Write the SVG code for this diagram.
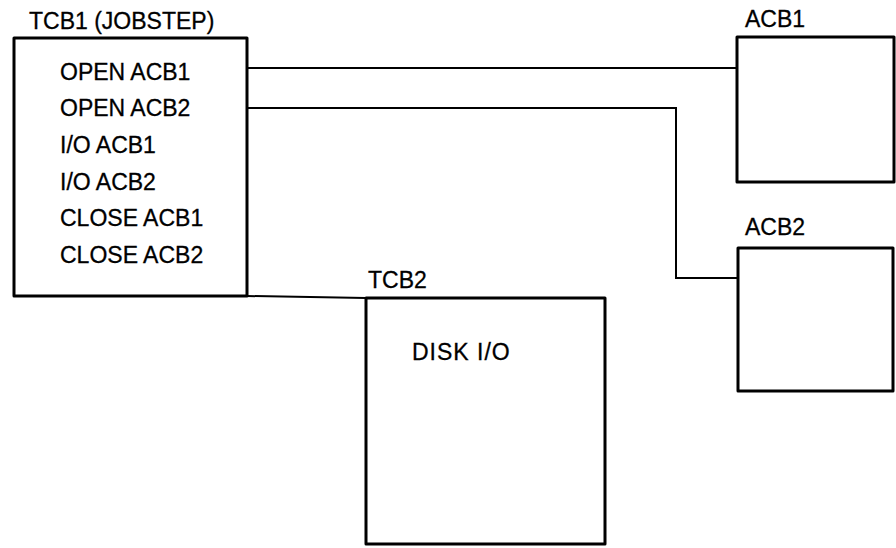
<svg xmlns="http://www.w3.org/2000/svg" width="896" height="548" viewBox="0 0 896 548">
<style>
.box{fill:none;stroke:#000;stroke-width:3;stroke-linejoin:round}
.conn{fill:none;stroke:#000;stroke-width:2}
text{font-family:"Liberation Sans",Arial,sans-serif;font-size:23px;fill:#000;stroke:#000;stroke-width:0.3}
</style>
<rect width="896" height="548" fill="#fff"/>
<g id="connectors">
<polyline class="conn" points="247,68 737,68"/>
<polyline class="conn" points="247,108 676,108 676,278 737,278"/>
<polyline class="conn" points="247,296 366,298"/>
</g>
<g id="tcb1">
<rect class="box" x="14" y="38" width="233" height="258"/>
<text x="29" y="29">TCB1 (JOBSTEP)</text>
<text x="60" y="80">OPEN ACB1</text>
<text x="60" y="116">OPEN ACB2</text>
<text x="60" y="153">I/O ACB1</text>
<text x="60" y="190">I/O ACB2</text>
<text x="60" y="226">CLOSE ACB1</text>
<text x="60" y="263">CLOSE ACB2</text>
</g>
<g id="acb1">
<rect class="box" x="737" y="37" width="157" height="145"/>
<text x="745" y="27">ACB1</text>
</g>
<g id="acb2">
<rect class="box" x="738" y="248" width="155" height="143"/>
<text x="745" y="235">ACB2</text>
</g>
<g id="tcb2">
<rect class="box" x="366" y="298" width="239" height="246"/>
<text x="368" y="288">TCB2</text>
<text x="412" y="360" letter-spacing="1">DISK I/O</text>
</g>
</svg>
